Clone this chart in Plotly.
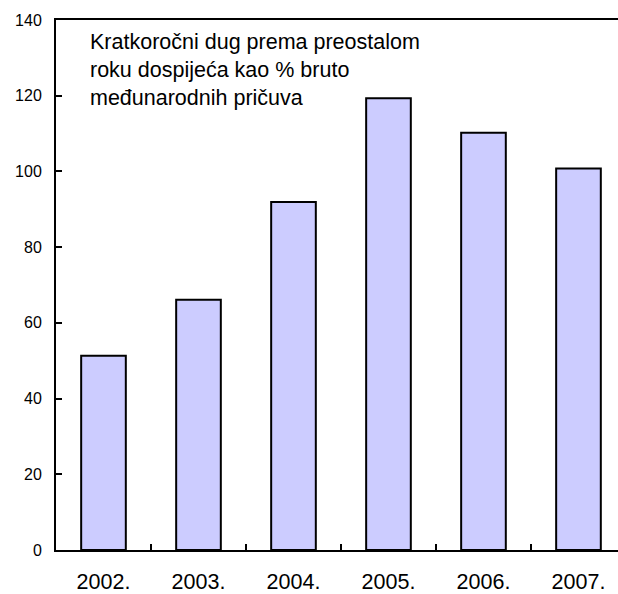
import plotly.graph_objects as go

years = ["2002.", "2003.", "2004.", "2005.", "2006.", "2007."]
values = [51.3, 66.1, 91.9, 119.3, 110.2, 100.8]
y_ticks = [0, 20, 40, 60, 80, 100, 120, 140]
note = "Kratkoročni dug prema preostalom<br>roku dospijeća kao % bruto<br>međunarodnih pričuva"

fig = go.Figure(
    go.Bar(
        x=years,
        y=values,
        width=0.47,
        marker=dict(color="#CCCCFF", line=dict(color="black", width=2)),
    )
)

fig.update_layout(
    width=618,
    height=594,
    margin=dict(l=56, r=0, t=20, b=42),
    paper_bgcolor="white",
    plot_bgcolor="white",
    showlegend=False,
    font=dict(family="Liberation Sans, Arial, sans-serif", color="black"),
)

fig.update_xaxes(
    range=[-0.5, 5.416],
    showline=True,
    linecolor="black",
    linewidth=2,
    mirror=True,
    ticks="inside",
    tickson="boundaries",
    ticklen=6,
    tickwidth=2,
    tickcolor="black",
    showgrid=False,
    tickfont=dict(size=21.5),
    ticklabelstandoff=11,
)

fig.update_yaxes(
    range=[0, 140],
    tickvals=y_ticks,
    showline=True,
    linecolor="black",
    linewidth=2,
    ticks="inside",
    ticklen=6,
    tickwidth=2,
    tickcolor="black",
    showgrid=False,
    zeroline=False,
    tickfont=dict(size=16),
    ticklabelstandoff=9,
)

fig.add_annotation(
    text=note,
    xref="paper",
    yref="paper",
    x=0.057,
    y=0.984,
    xanchor="left",
    yanchor="top",
    align="left",
    showarrow=False,
    font=dict(size=21.5, family="Liberation Sans, Arial, sans-serif", color="black"),
)

fig.write_html(
    "out.html",
    config={"displayModeBar": False},
    post_script="document.body.style.margin='0';document.body.style.overflow='hidden';",
)
